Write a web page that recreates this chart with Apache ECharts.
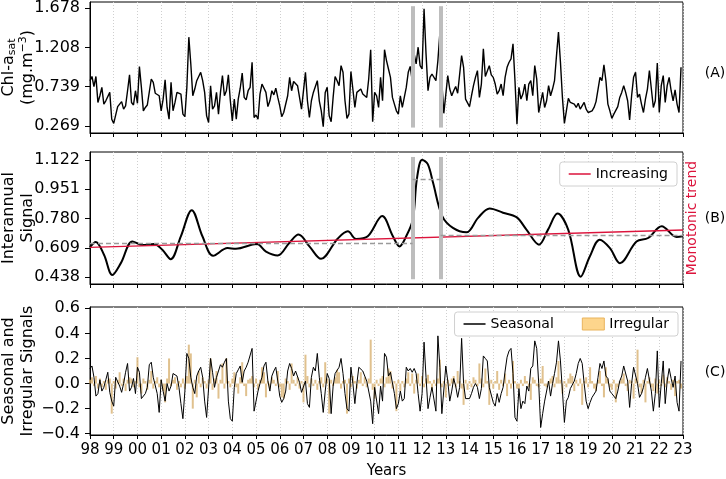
<!DOCTYPE html>
<html>
<head>
<meta charset="utf-8">
<script src="https://cdn.jsdelivr.net/npm/echarts@6/dist/echarts.min.js"></script>
<style>
  html, body { margin: 0; padding: 0; background: #fff; }
  #chart { width: 726px; height: 479px; }
</style>
</head>
<body>
<div id="chart"></div>
<script>
// monthly Chl-a sat (mg.m-3), Jan 1998 .. Dec 2022, one row per year
var chlSat = [
  0.81, 0.86, 0.74, 0.86, 0.55, 0.63, 0.73, 0.53, 0.57, 0.58, 0.67, 0.35,
  0.30, 0.30, 0.50, 0.48, 0.56, 0.47, 0.51, 0.69, 0.88, 0.55, 0.52, 0.69,
  0.54, 0.98, 0.73, 0.45, 0.49, 0.52, 0.53, 0.83, 0.79, 0.66, 0.67, 0.63,
  0.45, 0.59, 0.82, 0.49, 0.35, 0.79, 0.45, 0.55, 0.67, 0.67, 0.65, 0.41,
  0.38, 0.73, 1.33, 1.01, 0.63, 0.71, 0.81, 0.79, 0.91, 0.81, 0.67, 0.39,
  0.31, 0.75, 0.47, 0.51, 0.67, 0.41, 0.67, 0.87, 0.63, 0.69, 0.88, 0.57,
  0.33, 0.59, 0.35, 0.59, 0.72, 0.90, 0.61, 0.58, 0.69, 0.73, 1.03, 0.37,
  0.40, 0.35, 0.65, 0.77, 0.78, 0.67, 0.50, 0.57, 0.69, 0.64, 0.72, 0.61,
  0.51, 0.38, 0.43, 0.41, 0.63, 0.85, 0.69, 0.80, 0.79, 0.75, 0.75, 0.47,
  0.46, 0.91, 0.57, 0.37, 0.57, 0.67, 0.69, 0.81, 0.57, 0.45, 0.26, 0.67,
  0.73, 0.39, 0.32, 0.61, 0.86, 0.81, 0.75, 0.99, 0.91, 0.57, 0.36, 0.41,
  0.92, 0.91, 0.49, 0.67, 0.65, 0.71, 0.65, 0.63, 0.61, 0.83, 1.18, 0.32,
  0.67, 0.63, 0.49, 0.85, 0.57, 1.18, 1.05, 0.95, 0.85, 0.61, 0.53, 0.45,
  0.41, 0.63, 0.49, 0.61, 0.73, 0.91, 0.98, 0.81, 1.13, 1.01, 1.21, 0.99,
  0.95, 1.67, 1.13, 0.69, 0.85, 0.89, 0.87, 0.81, 1.05, 1.38, 0.79, 0.42,
  0.43, 0.87, 0.71, 0.63, 0.69, 0.74, 0.66, 0.66, 1.11, 0.97, 0.59, 0.61,
  0.50, 0.63, 0.75, 0.85, 0.93, 0.61, 0.77, 1.19, 0.86, 0.85, 0.99, 0.88,
  0.85, 0.77, 0.65, 0.69, 0.77, 0.63, 0.85, 0.97, 1.03, 1.07, 1.25, 0.81,
  0.29, 0.73, 0.59, 0.65, 0.77, 0.57, 0.77, 0.81, 0.63, 0.99, 0.83, 0.43,
  0.43, 0.67, 0.49, 0.57, 0.75, 0.63, 0.71, 0.81, 1.11, 1.39, 1.03, 0.61,
  0.30, 0.45, 0.60, 0.55, 0.57, 0.53, 0.49, 0.54, 0.47, 0.49, 0.55, 0.47,
  0.43, 0.45, 0.45, 0.49, 0.56, 0.57, 0.85, 0.81, 1.00, 0.81, 0.53, 0.45,
  0.36, 0.41, 0.41, 0.50, 0.61, 0.67, 0.75, 0.67, 0.57, 0.34, 0.63, 0.85,
  0.91, 0.61, 0.65, 0.53, 0.43, 0.59, 0.71, 0.93, 0.93, 0.49, 0.57, 1.02,
  0.43, 0.75, 0.87, 0.55, 0.75, 0.85, 0.69, 0.57, 0.70, 0.53, 0.43, 0.97
];

// seasonal signal, monthly
var seasonal = [
  0.12, 0.14, 0.05, -0.10, -0.08, 0.03, -0.06, -0.03, 0.03, 0.09, -0.07, -0.14,
  -0.18, 0.05, 0.04, -0.02, -0.07, 0.00, 0.09, 0.16, -0.06, -0.03, 0.04, -0.08,
  0.13, 0.09, -0.12, -0.12, -0.08, -0.03, 0.15, 0.17, 0.05, 0.04, -0.08, -0.23,
  0.03, -0.06, -0.14, 0.00, -0.06, -0.02, 0.08, 0.09, 0.06, -0.03, -0.16, -0.28,
  -0.06, 0.24, 0.20, 0.05, -0.03, -0.08, 0.06, 0.10, 0.13, 0.05, -0.14, -0.27,
  -0.28, 0.20, 0.09, -0.03, 0.05, 0.10, 0.15, 0.13, 0.17, 0.20, -0.14, -0.28,
  -0.30, -0.03, 0.08, 0.11, 0.14, 0.01, 0.10, 0.13, 0.17, 0.17, 0.28, -0.22,
  -0.22, -0.06, 0.00, 0.05, 0.14, 0.17, 0.02, -0.06, 0.06, 0.10, 0.13, 0.02,
  -0.10, -0.15, -0.12, -0.06, 0.10, 0.16, 0.12, 0.06, 0.10, 0.09, 0.01, -0.07,
  -0.08, 0.02, -0.16, -0.19, 0.05, 0.13, 0.10, 0.24, 0.05, -0.08, -0.23, -0.06,
  0.08, 0.04, -0.24, -0.02, 0.08, 0.09, 0.13, 0.20, 0.08, -0.08, -0.20, -0.22,
  0.13, 0.00, -0.16, 0.00, 0.13, 0.14, 0.10, 0.09, 0.02, 0.01, -0.14, -0.32,
  -0.03, -0.02, -0.24, -0.02, -0.14, 0.24, 0.21, 0.06, 0.09, 0.08, -0.08, -0.20,
  -0.16, -0.06, -0.14, -0.12, 0.13, 0.10, 0.12, 0.09, 0.12, 0.08, -0.08, -0.22,
  -0.08, 0.33, 0.05, -0.20, -0.11, -0.03, -0.02, -0.22, 0.38, 0.13, -0.24, -0.23,
  0.14, 0.02, -0.14, -0.06, 0.04, -0.02, -0.11, -0.03, 0.36, 0.00, -0.12, -0.12,
  -0.12, -0.08, -0.03, 0.00, -0.03, -0.12, -0.04, 0.22, 0.20, 0.18, -0.03, -0.02,
  -0.15, -0.18, -0.08, -0.15, -0.08, -0.03, 0.10, 0.21, 0.26, 0.28, 0.08, -0.27,
  -0.30, -0.04, -0.20, -0.14, -0.16, -0.02, -0.06, 0.12, 0.14, 0.34, 0.28, 0.00,
  -0.35, -0.24, -0.14, -0.15, 0.02, -0.10, 0.00, 0.08, 0.17, 0.34, 0.18, -0.06,
  -0.31, -0.14, -0.11, -0.04, -0.03, 0.02, 0.08, 0.16, 0.20, 0.16, 0.00, -0.14,
  -0.20, -0.15, -0.11, -0.12, -0.06, 0.05, 0.16, 0.12, 0.18, 0.06, 0.04, -0.06,
  -0.08, -0.10, -0.12, -0.06, 0.02, 0.06, 0.14, 0.13, 0.02, -0.19, 0.00, 0.13,
  0.12, 0.00, -0.11, -0.08, -0.03, 0.05, 0.12, 0.12, -0.06, -0.22, -0.08, 0.26,
  -0.19, 0.00, 0.18, -0.16, 0.02, 0.12, 0.04, -0.03, 0.06, -0.15, -0.22, 0.18
];

// irregular signal, monthly
var irregular = [
  0.03, 0.05, -0.02, 0.06, -0.04, 0.04, -0.03, 0.02, -0.05, 0.03, 0.04, -0.24,
  0.02, -0.04, 0.03, 0.09, -0.02, 0.04, -0.06, 0.03, 0.05, 0.04, -0.03, 0.02,
  0.21, -0.03, -0.08, 0.04, 0.02, -0.05, 0.03, 0.10, -0.04, 0.02, 0.05, -0.03,
  0.03, -0.06, -0.15, 0.04, 0.20, -0.02, 0.03, 0.05, -0.05, 0.02, -0.03, 0.04,
  -0.04, 0.06, 0.31, 0.24, -0.20, 0.03, -0.11, 0.10, -0.03, 0.05, 0.02, -0.04,
  0.03, 0.20, -0.05, 0.04, 0.10, -0.12, 0.03, 0.16, -0.04, 0.20, 0.02, -0.03,
  0.04, 0.09, -0.03, -0.08, 0.05, 0.17, -0.02, -0.10, 0.03, 0.04, 0.06, -0.03,
  0.04, -0.05, 0.03, 0.13, 0.09, -0.11, 0.02, -0.04, 0.05, 0.03, -0.02, 0.10,
  -0.03, -0.11, -0.12, 0.04, 0.02, -0.05, 0.16, 0.03, -0.02, 0.05, -0.04, 0.02,
  -0.15, 0.23, 0.06, -0.03, 0.04, -0.02, 0.03, -0.05, 0.02, 0.05, -0.03, 0.17,
  0.04, -0.24, 0.03, -0.02, 0.05, 0.11, 0.09, -0.04, 0.02, 0.03, -0.24, 0.04,
  -0.03, 0.06, 0.02, -0.04, 0.03, 0.09, -0.02, 0.05, -0.03, 0.04, 0.35, -0.05,
  -0.12, 0.03, -0.02, 0.04, 0.06, -0.03, 0.05, 0.12, 0.10, -0.04, 0.02, -0.22,
  0.03, -0.06, 0.02, -0.03, 0.04, 0.09, -0.02, 0.08, -0.08, 0.03, 0.08, -0.02,
  0.06, -0.03, 0.04, 0.07, 0.02, -0.05, 0.03, -0.02, 0.04, 0.19, -0.03, 0.02,
  -0.11, 0.03, -0.02, 0.04, 0.06, -0.03, 0.10, 0.02, -0.04, -0.17, 0.03, -0.05,
  0.02, -0.03, 0.05, 0.03, -0.02, 0.16, 0.04, -0.03, 0.12, 0.02, -0.17, 0.03,
  -0.04, 0.02, 0.10, -0.05, 0.03, -0.02, 0.08, -0.10, 0.03, -0.04, 0.18, 0.02,
  -0.04, -0.04, 0.03, -0.02, 0.06, 0.02, -0.03, -0.13, 0.05, 0.03, -0.02, -0.03,
  0.04, 0.14, -0.02, -0.03, 0.02, 0.04, 0.06, -0.03, 0.05, 0.18, 0.03, -0.08,
  0.02, -0.03, 0.04, 0.08, 0.06, -0.06, 0.03, -0.02, 0.04, -0.17, 0.02, 0.05,
  -0.03, 0.13, 0.02, -0.04, -0.06, 0.03, 0.10, -0.02, -0.11, 0.13, 0.04, -0.03,
  -0.05, 0.03, -0.15, -0.03, 0.02, 0.04, 0.08, -0.02, -0.06, 0.03, 0.02, -0.12,
  0.04, 0.27, -0.03, -0.08, 0.03, -0.15, 0.02, 0.05, -0.03, -0.06, 0.04, -0.08,
  0.03, -0.02, 0.07, -0.03, 0.05, 0.02, -0.05, 0.03, -0.10, 0.02, 0.03, -0.04
];

// interannual signal, read at turning points of the curve
var interYears = [1998.0, 1998.24, 1998.59, 1998.94, 1999.3, 1999.79, 2000.21, 2000.7, 2001.05, 2001.4,
  2001.83, 2002.29, 2002.74, 2003.19, 2003.8, 2004.15, 2005.03, 2005.42, 2005.91, 2006.4,
  2006.79, 2007.25, 2007.74, 2008.44, 2008.87, 2009.22, 2009.71, 2010.32, 2010.77, 2011.05,
  2011.33, 2011.61, 2011.78, 2012.0, 2012.24, 2012.46, 2012.85, 2013.3, 2013.87, 2014.36,
  2014.85, 2015.41, 2015.98, 2016.4, 2016.93, 2017.31, 2017.71, 2018.16, 2018.69, 2019.07,
  2019.49, 2019.92, 2020.34, 2021.04, 2021.53, 2022.1, 2022.73, 2023.0];
var interVals = [0.613, 0.643, 0.568, 0.450, 0.519, 0.646, 0.625, 0.631, 0.597, 0.542,
  0.676, 0.829, 0.676, 0.562, 0.607, 0.603, 0.631, 0.587, 0.564, 0.637,
  0.686, 0.617, 0.544, 0.662, 0.705, 0.660, 0.676, 0.794, 0.676, 0.617,
  0.676, 0.774, 1.010, 1.124, 1.098, 0.990, 0.794, 0.725, 0.699, 0.784,
  0.839, 0.814, 0.788, 0.715, 0.627, 0.715, 0.809, 0.715, 0.440, 0.558,
  0.656, 0.607, 0.519, 0.646, 0.666, 0.735, 0.672, 0.676];

// monotonic trend
var trendYears = [1998, 2023];
var trendVals = [0.611, 0.713];

// change points and segment means
var breakYears = [2011.6, 2012.78];
var meanStart = [1998, 2011.6, 2012.78];
var meanEnd = [2011.6, 2012.78, 2023];
var meanVals = [0.634, 1.010, 0.681];

// tick labels
var ticksA = [0.269, 0.739, 1.208, 1.678];
var ticksB = [0.438, 0.609, 0.780, 0.951, 1.122];
var ticksC = [-0.4, -0.2, 0.0, 0.2, 0.4, 0.6];

var FONT = 'DejaVu Sans';
var RED = '#dc143c';
// legend icon: a short horizontal stroke inside a 22x12 box
var LINE_ICON = 'path://M0,0L0.01,0L0.01,0.01L0,0.01Z M0,5.3L22,5.3L22,6.7L0,6.7Z M0,11.99L0.01,11.99L0.01,12L0,12Z';

function monthly(arr) {
    return arr.map(function (v, i) { return [1998 + i / 12, v]; });
}

function xAxisFor(idx, withLabels) {
    return {
        type: 'value', gridIndex: idx, min: 1998, max: 2023, interval: 1,
        axisLine: { show: true, onZero: false, lineStyle: { color: '#000', width: 1 } },
        axisTick: { show: true, length: 4, lineStyle: { color: '#000' } },
        axisLabel: {
            show: withLabels, color: '#000', fontSize: 15, fontFamily: FONT, margin: 8,
            formatter: function (v) { return String(v).slice(2); }
        },
        splitLine: { show: true, lineStyle: { color: '#cfcfcf', width: 1, type: [1, 2] } }
    };
}

function yAxisFor(idx, min, max, ticks, fmt, name) {
    return {
        type: 'value', gridIndex: idx, min: min, max: max,
        axisLine: { show: true, lineStyle: { color: '#000', width: 1 } },
        axisTick: { show: true, length: 5, customValues: ticks, lineStyle: { color: '#000' } },
        axisLabel: { customValues: ticks, color: '#000', fontSize: 16, fontFamily: FONT, margin: 10, formatter: fmt },
        splitLine: { show: false },
        name: name, nameLocation: 'middle', nameGap: 53, nameRotate: 90, nameMoveOverlap: false,
        nameTextStyle: {
            color: '#000', fontSize: 16, fontFamily: FONT, lineHeight: 19,
            rich: {
                sub: { fontSize: 11, fontFamily: FONT, verticalAlign: 'bottom', lineHeight: 19 },
                sup: { fontSize: 11, fontFamily: FONT, verticalAlign: 'top', lineHeight: 19 }
            }
        }
    };
}

var myChart = echarts.init(document.getElementById('chart'), null, { renderer: 'canvas' });

var bandStyle = { color: '#bdbdbd', width: 4, type: 'solid' };

var option = {
    animation: false,
    backgroundColor: '#fff',
    textStyle: { fontFamily: FONT },
    grid: [
        { left: 90, top: 2, width: 593, height: 131, show: true, borderColor: '#000', borderWidth: 1, outerBoundsMode: 'none' },
        { left: 90, top: 152, width: 593, height: 132, show: true, borderColor: '#000', borderWidth: 1, outerBoundsMode: 'none' },
        { left: 90, top: 307, width: 593, height: 128, show: true, borderColor: '#000', borderWidth: 1, outerBoundsMode: 'none' }
    ],
    xAxis: [
        xAxisFor(0, false),
        xAxisFor(1, false),
        Object.assign(xAxisFor(2, true), {
            name: 'Years', nameLocation: 'middle', nameGap: 29, nameMoveOverlap: false,
            nameTextStyle: { color: '#000', fontSize: 15, fontFamily: FONT }
        })
    ],
    yAxis: [
        yAxisFor(0, 0.185, 1.75, ticksA, function (v) { return v.toFixed(3); },
            'Chl-a{sub|sat}\n(mg.m{sup|\u22123})'),
        yAxisFor(1, 0.397, 1.169, ticksB, function (v) { return v.toFixed(3); },
            'Interannual\nSignal'),
        yAxisFor(2, -0.41, 0.61, ticksC, function (v) {
            return (v < 0 ? '\u2212' : '') + Math.abs(v).toFixed(1);
        }, 'Seasonal and\nIrregular Signals')
    ],
    legend: [
        {
            data: [{ name: 'Increasing', icon: LINE_ICON, itemStyle: { color: RED } }],
            right: 49, top: 162,
            itemWidth: 22, itemHeight: 12, padding: [5, 9, 5, 9],
            backgroundColor: '#fff', borderColor: '#d0d0d0', borderWidth: 1, borderRadius: 3,
            textStyle: { color: '#000', fontSize: 14, fontFamily: FONT }
        },
        {
            data: [
                { name: 'Seasonal', icon: LINE_ICON, itemStyle: { color: '#000' } },
                { name: 'Irregular', icon: 'rect', itemStyle: { color: '#fdd58c', borderColor: '#e9b45c', borderWidth: 1 } }
            ],
            right: 48, top: 312, itemGap: 28,
            itemWidth: 22, itemHeight: 12, padding: [5, 9, 5, 9],
            backgroundColor: '#fff', borderColor: '#d0d0d0', borderWidth: 1, borderRadius: 3,
            textStyle: { color: '#000', fontSize: 14, fontFamily: FONT }
        }
    ],
    graphic: [
        { type: 'text', x: 715, y: 73, style: { text: '(A)', fill: '#000', font: '14px "DejaVu Sans"', align: 'center', verticalAlign: 'middle' } },
        { type: 'text', x: 715, y: 218, style: { text: '(B)', fill: '#000', font: '14px "DejaVu Sans"', align: 'center', verticalAlign: 'middle' } },
        { type: 'text', x: 715, y: 372, style: { text: '(C)', fill: '#000', font: '14px "DejaVu Sans"', align: 'center', verticalAlign: 'middle' } },
        { type: 'text', x: 692, y: 218, rotation: Math.PI / 2, style: { text: 'Monotonic trend', fill: RED, font: '14px "DejaVu Sans"', align: 'center', verticalAlign: 'middle' } }
    ],
    series: [
        // change point bands, panel A
        {
            type: 'line', xAxisIndex: 0, yAxisIndex: 0, data: [], z: 1, silent: true,
            markLine: {
                silent: true, symbol: ['none', 'none'], label: { show: false }, lineStyle: bandStyle,
                data: breakYears.map(function (b) { return [{ coord: [b, 0.25] }, { coord: [b, 1.70] }]; })
            }
        },
        {
            name: 'Chl', type: 'line', xAxisIndex: 0, yAxisIndex: 0, data: monthly(chlSat),
            symbol: 'none', lineStyle: { color: '#000', width: 1.4 }, z: 3, silent: true
        },
        // change point bands, panel B
        {
            type: 'line', xAxisIndex: 1, yAxisIndex: 1, data: [], z: 1, silent: true,
            markLine: {
                silent: true, symbol: ['none', 'none'], label: { show: false }, lineStyle: bandStyle,
                data: breakYears.map(function (b) { return [{ coord: [b, 0.425] }, { coord: [b, 1.14] }]; })
            }
        },
        // segment means
        {
            type: 'line', xAxisIndex: 1, yAxisIndex: 1, data: [], z: 2, silent: true,
            markLine: {
                silent: true, symbol: ['none', 'none'], label: { show: false },
                lineStyle: { color: '#9a9a9a', width: 1.3, type: [5, 3] },
                data: meanVals.map(function (m, i) { return [{ coord: [meanStart[i], m] }, { coord: [meanEnd[i], m] }]; })
            }
        },
        {
            name: 'Interannual', type: 'line', xAxisIndex: 1, yAxisIndex: 1,
            data: interYears.map(function (y, i) { return [y, interVals[i]]; }),
            smooth: 0.35, symbol: 'none', lineStyle: { color: '#000', width: 2 }, z: 3, silent: true
        },
        {
            name: 'Increasing', type: 'line', xAxisIndex: 1, yAxisIndex: 1,
            data: trendYears.map(function (y, i) { return [y, trendVals[i]]; }),
            symbol: 'none', itemStyle: { color: RED }, lineStyle: { color: RED, width: 1.4 }, z: 4, silent: true
        },
        {
            name: 'Irregular', type: 'bar', xAxisIndex: 2, yAxisIndex: 2, data: monthly(irregular),
            barWidth: 2, itemStyle: { color: 'rgba(214,172,104,0.75)' }, z: 2, silent: true
        },
        {
            name: 'Seasonal', type: 'line', xAxisIndex: 2, yAxisIndex: 2, data: monthly(seasonal),
            symbol: 'none', itemStyle: { color: '#000' }, lineStyle: { color: '#000', width: 1 }, z: 3, silent: true
        }
    ]
};

myChart.setOption(option);
</script>
</body>
</html>
